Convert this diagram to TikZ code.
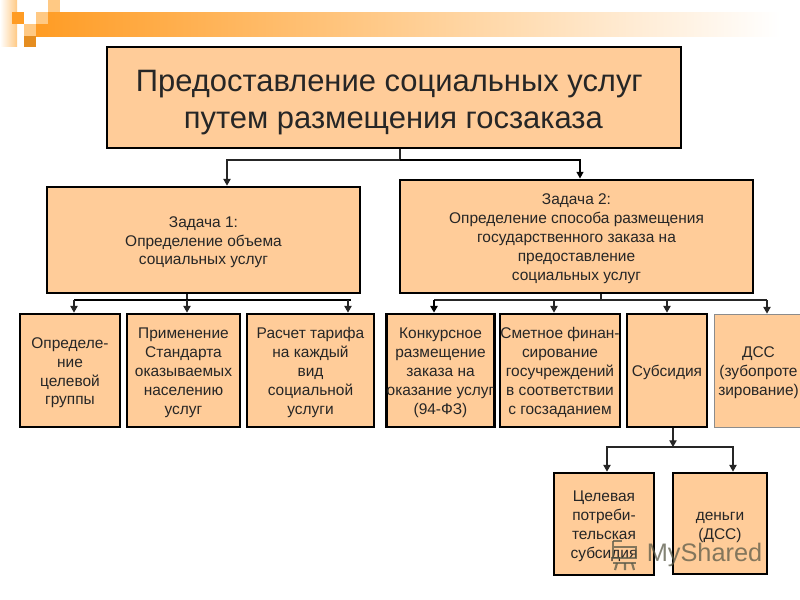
\documentclass[tikz,border=0pt]{standalone}
\usepackage{fontspec}
\setmainfont{Liberation Sans}
\usetikzlibrary{arrows.meta}
\definecolor{boxfill}{HTML}{FFCC99}
\definecolor{bandor}{HTML}{FF9C24}
\definecolor{bandmid}{HTML}{FFD2B4}
\definecolor{pale}{HTML}{FFC984}
\definecolor{wm}{HTML}{5A5A48}
\tikzset{
  box/.style={draw=black,fill=boxfill,line width=2.1pt,inner sep=0pt,align=center,text=black!85,
    font=\fontsize{11.6}{14.15}\selectfont},
  titlebox/.style={box,font=\fontsize{23.2}{27.7}\selectfont},
  thinbox/.style={box,draw=black!45,line width=.6pt},
  conn/.style={draw=black!85,line width=.8pt},
  bus/.style={draw=black,line width=1.7pt},
  tip/.style={-{Triangle[length=5pt,width=5.5pt]}},
}
\newcommand{\bx}[7]{%
 \node[#2,minimum width=#5*0.75pt-#3*0.75pt,minimum height=#6*0.75pt-#4*0.75pt] (#1)
   at ({(#3+#5)/2},{(#4+#6)/2}) {\rule{0pt}{11.6pt}#7};}
\begin{document}
\begin{tikzpicture}[x=0.75pt,y=-0.75pt]
\useasboundingbox (0,0) rectangle (800,600);
\fill[white] (0,0) rectangle (800,600);
% banner
\shade[left color=bandor,middle color=bandmid,right color=white] (36,12) rectangle (780,36);
\shade[left color=white,right color=pale] (0,0) rectangle (17,46);
\fill[bandor] (12,12) rectangle (24,24);
\fill[pale] (36,12) rectangle (48,24);
\fill[pale] (48,0) rectangle (60,12);
\fill[pale] (24,24) rectangle (36,36);
\fill[bandor!90!black] (24,36) rectangle (36,47);
% boxes
\bx{main}{titlebox}{107}{47}{681}{148}{\rule{0pt}{24pt}\hspace*{-7pt}Предоставление социальных услуг\\ \hspace*{-1pt}путем размещения госзаказа}
\bx{taskA}{box}{47}{187}{360}{293}{Задача 1:\\Определение объема\\социальных услуг}
\bx{taskB}{box}{400}{180}{753}{293}{Задача 2:\\Определение способа размещения\\государственного заказа на\\предоставление\\социальных услуг}
\bx{a1}{box}{20}{314}{120}{427}{Определе-\\ние\\целевой\\группы}
\bx{a2}{box}{127}{314}{240}{427}{Применение\\Стандарта\\оказываемых\\населению\\услуг}
\bx{a3}{box}{247}{314}{374}{427}{Расчет тарифа\\на каждый\\вид\\социальной\\услуги}
\bx{b1}{box}{387}{314}{494}{427}{Конкурсное\\размещение\\заказа на\\оказание услуг\\(94-ФЗ)}
\bx{b2}{box}{500}{314}{620}{427}{Сметное финан-\\сирование\\госучреждений\\в соответствии\\с госзаданием}
\bx{b3}{box}{627}{314}{707}{427}{Субсидия}
\bx{b4}{thinbox}{714}{314}{803}{427}{ДСС\\(зубопроте\\зирование)}
\bx{c1}{box}{554}{473}{654}{575}{Целевая\\потреби-\\тельская\\субсидия}
\bx{c2}{box}{673}{473}{767}{574}{деньги\\(ДСС)}
% junctions
\coordinate (j0) at (400,160);
\coordinate (xA) at (227,0);
\coordinate (xB) at (580,0);
\coordinate (j1) at (187,300);
\coordinate (xa1) at (74,0);
\coordinate (xa3) at (348,0);
\coordinate (j2) at (601,300);
\coordinate (xb1) at (434,0);
\coordinate (xb2) at (554,0);
\coordinate (xb3) at (667,0);
\coordinate (xb4) at (767,0);
\coordinate (j3) at (673,447);
\coordinate (xc1) at (607,0);
\coordinate (xc2) at (733,0);
% connectors
\draw[conn] (main.south -| j0) -- (j0);
\draw[conn,tip] (j0) -| (taskA.north -| xA);
\draw[bus,-{Triangle[length=5pt,width=5pt]}] (j0) -| (taskB.north -| xB);
\draw[conn] (taskA.south -| j1) -- (j1);
\draw[bus] (j1 -| xa1) -- (j1 -| xa3) -- ++(3,0);
\draw[conn,tip] (j1 -| xa1) -- (a1.north -| xa1);
\draw[conn,tip] (j1) -- (a2.north -| j1);
\draw[conn,tip] (j1 -| xa3) -- (a3.north -| xa3);
\draw[conn] (taskB.south -| j2) -- (j2);
\draw[conn] (j2 -| xb1) -- (j2 -| xb4);
\draw[bus,tip] (j2 -| xb1) -- (b1.north -| xb1);
\draw[conn,tip] (j2 -| xb2) -- (b2.north -| xb2);
\draw[conn,tip] (j2 -| xb3) -- (b3.north -| xb3);
\draw[conn,tip] (j2 -| xb4) -- (b4.north -| xb4);
\draw[conn,tip] (b3.south -| j3) -- (j3);
\draw[conn,tip] (j3) -| (c1.north -| xc1);
\draw[conn,tip] (j3) -| (c2.north -| xc2);
% watermark
\begin{scope}[wm,opacity=.75,line width=1.6pt]
\draw (613,541) -- (613,547) -- (636,547) -- (636,558) -- (613,558) -- (613,547);
\draw (613,563) -- (636,563);
\draw (617,563) -- (615,570) (625,563) -- (625,570) (632,563) -- (634,570);
\draw (613,541) -- (622,541);
\end{scope}
\node[text=wm,opacity=.75,font=\fontsize{19}{23}\selectfont,inner sep=0pt] (mark) at (704.5,555) {MyShared};
\end{tikzpicture}
\end{document}
